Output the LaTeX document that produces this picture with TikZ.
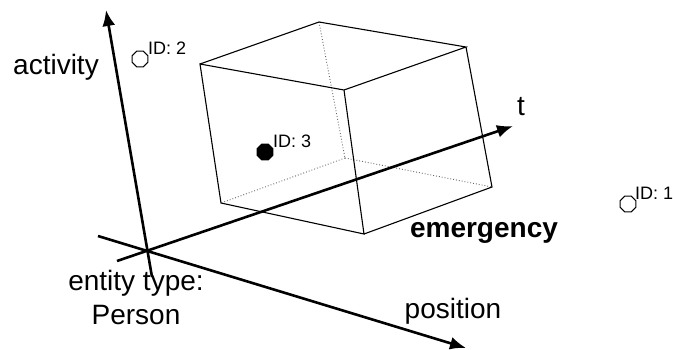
\documentclass[tikz,border=0pt]{standalone}
\usepackage{fontspec}
\setmainfont{Liberation Sans}
\usepackage{tikz}
\usetikzlibrary{arrows.meta, shapes.geometric, positioning}

\begin{document}
\begin{tikzpicture}[x=1pt, y=-1pt, >={Latex[length=16pt,width=13pt]},
    axis/.style={line width=2.6pt},
    edge/.style={line width=1.1pt},
    hidden/.style={line width=0.9pt, gray!80!black, dotted},
    obj/.style={draw, line width=1pt, regular polygon, regular polygon sides=8,
                minimum size=17pt, inner sep=0pt},
    idtxt/.style={font=\fontsize{18}{20}\selectfont, inner sep=0pt},
    axtxt/.style={font=\fontsize{28}{34}\selectfont, inner sep=0pt}]

    \useasboundingbox (0,0) rectangle (673,349);

    % =================================================================
    % 1. AXIS POINTS
    % =================================================================
    \coordinate (ActBot) at (152,277);
    \coordinate (ActTop) at (106,10);
    \coordinate (TStart) at (117,261);
    \coordinate (TEnd) at (513,126);
    \coordinate (PosStart) at (98,236);
    \coordinate (PosEnd) at (466,348);

    % =================================================================
    % 2. CUBE CORNERS (front face F, back face K)
    % =================================================================
    \coordinate (F1) at (200,64);
    \coordinate (F2) at (344,90);
    \coordinate (F3) at (364,234);
    \coordinate (F4) at (221,203);
    \coordinate (K1) at (319,22);
    \coordinate (K2) at (466,47);
    \coordinate (K3) at (492,187);
    \coordinate (K4) at (345,158);

    % hidden edges
    \draw[hidden] (K1) -- (K4);
    \draw[hidden] (K4) -- (K3);
    \draw[hidden] (K4) -- (F4);

    % visible edges
    \draw[edge] (F1) -- (F2) -- (F3) -- (F4) -- cycle;
    \draw[edge] (F1) -- (K1) -- (K2) -- (F2);
    \draw[edge] (K2) -- (K3) -- (F3);

    % =================================================================
    % 3. AXES
    % =================================================================
    \draw[axis, ->] (ActBot) -- (ActTop);
    \draw[axis, ->] (TStart) -- (TEnd);
    \draw[axis, ->] (PosStart) -- (PosEnd);

    % =================================================================
    % 4. OBJECTS
    % =================================================================
    \node[obj] (obj2) at (140,59) {};
    \node[obj, fill=black] (obj3) at (265,152) {};
    \node[obj] (obj1) at (628,204) {};

    \node[idtxt, above right=-2pt and 2pt of obj2] (id2) {ID: 2};
    \node[idtxt, above right=-2pt and 2pt of obj3] (id3) {ID: 3};
    \node[idtxt, above right=-2pt and 1pt of obj1] (id1) {ID: 1};

    % =================================================================
    % 5. LABELS
    % =================================================================
    \node[axtxt, anchor=base] (actlab) at (56,74) {activity};
    \node[axtxt, anchor=base] (tlab) at (521,115) {t};
    \node[axtxt, anchor=base] (poslab) at (453,318) {position};
    \node[axtxt, anchor=base, font=\fontsize{28}{34}\selectfont\bfseries] (emlab) at (484,237) {emergency};
    \node[axtxt, align=center] (typelab) at (136,297) {entity type:\\Person};

\end{tikzpicture}
\end{document}
